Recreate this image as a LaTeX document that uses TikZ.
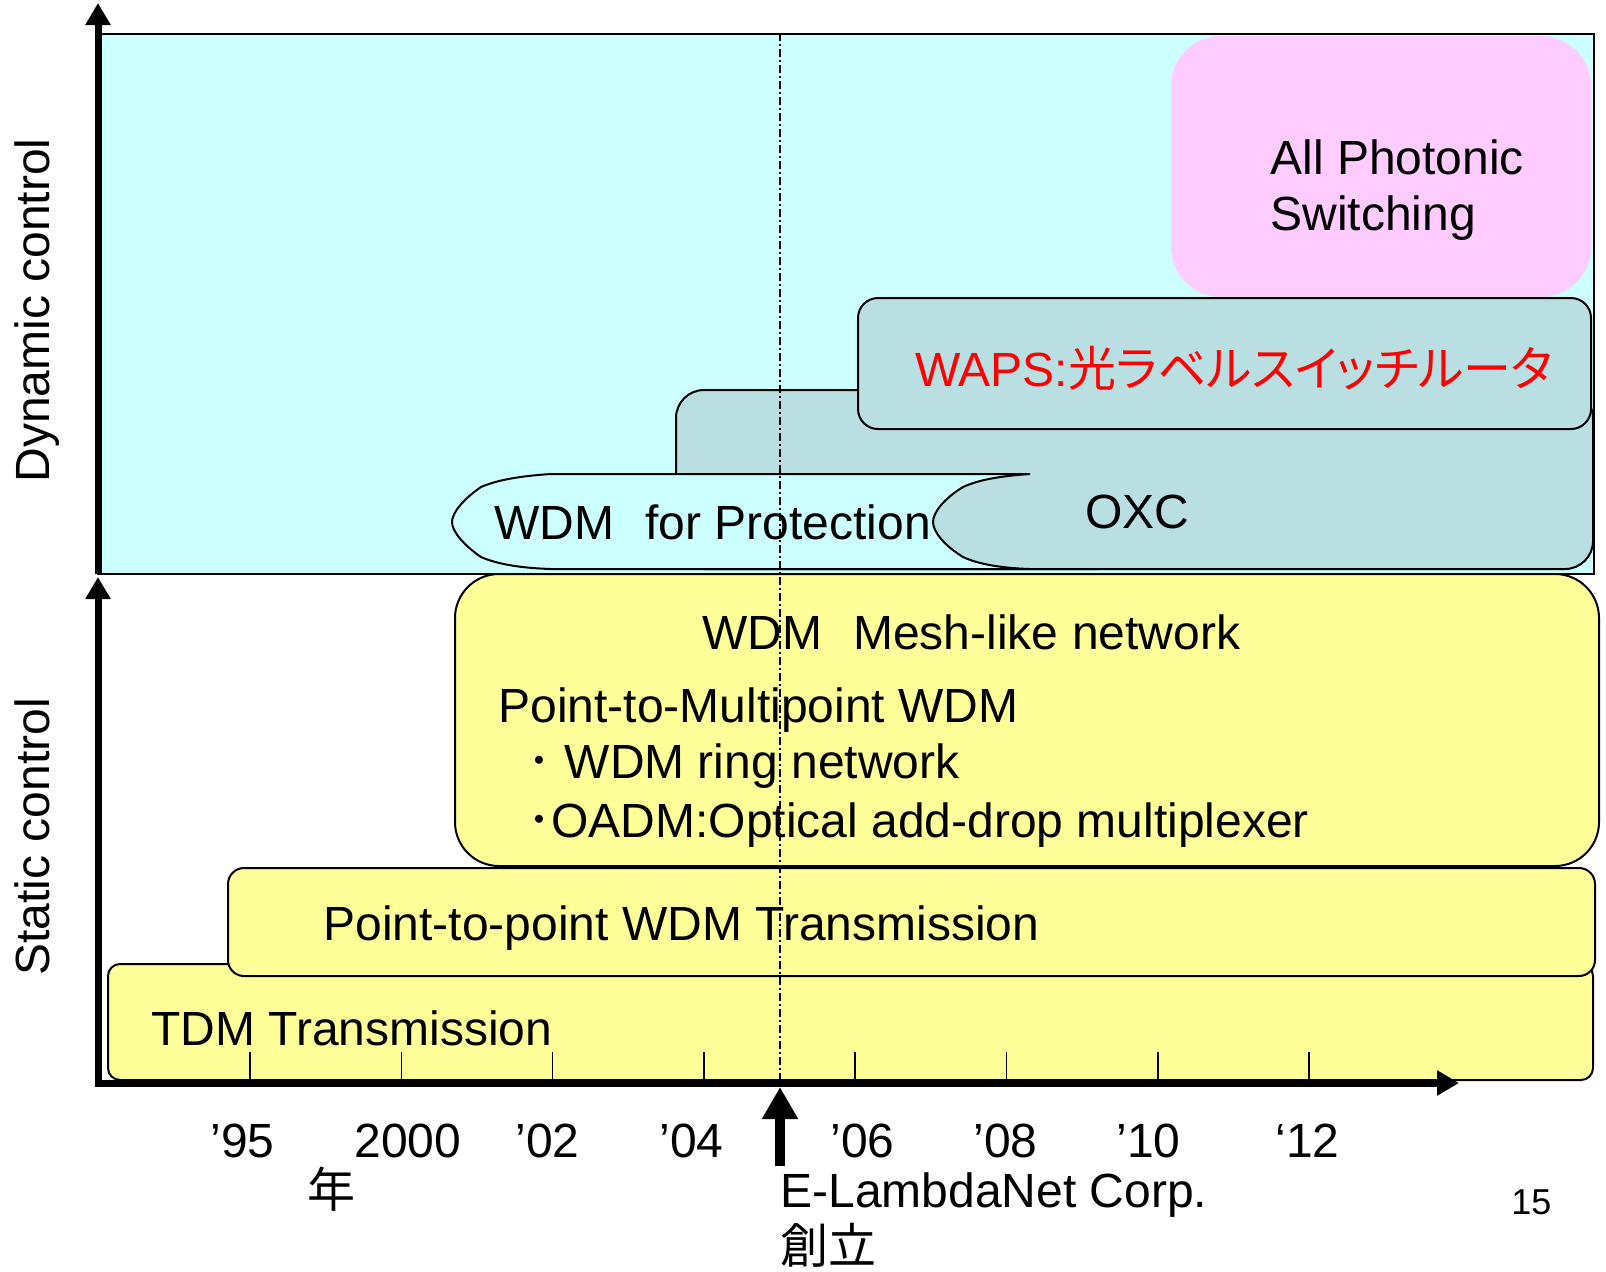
\documentclass[tikz,border=0pt]{standalone}
\usepackage{fontspec}
\setmainfont{Liberation Sans}
\newfontfamily\cjk[RawFeature=+palt]{Noto Sans CJK JP}
\usetikzlibrary{arrows.meta}
\definecolor{bgcyan}{HTML}{CCFFFF}
\definecolor{pinkbox}{HTML}{FFCCFF}
\definecolor{oxcteal}{HTML}{B9DFE2}
\definecolor{yel}{HTML}{FFFF99}
\tikzset{
  lbl/.style={font=\fontsize{24}{28}\selectfont, inner sep=0pt, anchor=base west},
  boxline/.style={draw=black, line width=1pt},
  axis/.style={line width=3.5pt, -{Triangle[length=11pt,width=12pt]}},
  founded/.style={line width=5pt, -{Triangle[length=16pt,width=17pt]}},
  dashdotline/.style={line width=0.75pt, dash pattern=on 4pt off 1.5pt on 1pt off 1.5pt},
  tick/.style={line width=0.75pt}
}
\begin{document}
\begin{tikzpicture}[x=0.5pt,y=-0.5pt]
\useasboundingbox (0,0) rectangle (1606,1271);
% dynamic region background
\draw[fill=bgcyan, line width=0.8pt] (98,34) rectangle (1594,574);
% All photonic
\fill[pinkbox, rounded corners=25pt] (1171,36) rectangle (1591,297);
% OXC
\draw[boxline, fill=oxcteal, rounded corners=14pt] (676,569) -- (676,390) -- (1593,390) -- (1593,569) -- cycle;
% WAPS
\draw[boxline, fill=oxcteal, rounded corners=10pt] (858,298) rectangle (1591,429);
% WDM for protection
\fill[bgcyan] (551,474) -- (1030,474) -- (1030,569) -- (551,569)
  .. controls (520,568) and (497,564) .. (481,557)
  .. controls (465,546) and (452,532) .. (452,522)
  .. controls (452,512) and (465,498) .. (481,487)
  .. controls (497,480) and (520,476) .. (551,474) -- cycle;
\draw[line width=1pt] (1030,474) -- (551,474)
  .. controls (520,476) and (497,480) .. (481,487)
  .. controls (465,498) and (452,512) .. (452,522)
  .. controls (452,532) and (465,546) .. (481,557)
  .. controls (497,564) and (520,568) .. (551,569) -- (1030,569);
% OXC notch
\fill[oxcteal] (1030,474)
  .. controls (1000,476) and (978,480) .. (963,487)
  .. controls (945,498) and (933,512) .. (933,522)
  .. controls (933,532) and (945,546) .. (963,557)
  .. controls (978,564) and (1000,568) .. (1030,569) -- (1100,569) -- (1100,474) -- cycle;
\draw[line width=1pt] (1030,474)
  .. controls (1000,476) and (978,480) .. (963,487)
  .. controls (945,498) and (933,512) .. (933,522)
  .. controls (933,532) and (945,546) .. (963,557)
  .. controls (978,564) and (1000,568) .. (1030,569) -- (1100,569);
% static boxes
\draw[boxline, fill=yel, rounded corners=6pt] (108,964) rectangle (1593,1080);
\draw[boxline, fill=yel, rounded corners=8pt] (228,868) rectangle (1595,976);
\draw[boxline, fill=yel, rounded corners=22pt] (455,574) rectangle (1599,866);
% ticks
\foreach \x in {250,401.3,552.6,703.9,855.2,1006.5,1157.8,1309.1}
  \draw[tick] (\x,1052) -- (\x,1083);
% axes
\coordinate (vtop) at (98,3);
\coordinate (vmid) at (98,574);
\coordinate (vmidtip) at (98,577);
\coordinate (vbot) at (98,1086);
\coordinate (hstart) at (95,1083);
\coordinate (hend) at (1459,1083);
\draw[axis] (vmid) -- (vtop);
\draw[axis] (vbot) -- (vmidtip);
\draw[axis] (hstart) -- (hend);
% founding marker
\coordinate (dtop) at (780,33);
\coordinate (dbot) at (780,1083);
\draw[dashdotline] (dtop) -- (dbot);
\coordinate (fbot) at (780,1166);
\coordinate (ftip) at (780,1087);
\draw[founded] (fbot) -- (ftip);
% texts
\node[lbl] (allph) at (1270,174) {All Photonic};
\node[lbl] (switching) at (1270,230) {Switching};
\node[lbl, text=red] (waps) at (915,386) {WAPS:{\cjk 光ラベルスイッチルータ}};
\node[lbl] (oxc) at (1085,528) {OXC};
\node[lbl] (prot) at (494,539) {WDM\hspace{15.5pt}for Protection};
\node[lbl] (mesh) at (702,649) {WDM\hspace{15.5pt}Mesh-like network};
\node[lbl] (p2mp) at (498,722) {Point-to-Multipoint WDM};
\node[lbl] (ring) at (527,778) {{\cjk ･} WDM ring network};
\node[lbl] (oadm) at (527,837) {{\cjk ･}OADM:Optical add-drop multiplexer};
\node[lbl] (p2p) at (323,940) {Point-to-point WDM Transmission};
\node[lbl] (tdm) at (151,1045) {TDM Transmission};
\node[lbl, rotate=90] (dyn) at (49,483) {Dynamic control};
\node[lbl, rotate=90] (stat) at (49,976) {Static control};
\node[lbl] (y95) at (210,1157) {’95};
\node[lbl] (y00) at (354,1157) {2000};
\node[lbl] (y02) at (515,1157) {’02};
\node[lbl] (y04) at (659,1157) {’04};
\node[lbl] (y06) at (830,1157) {’06};
\node[lbl] (y08) at (973,1157) {’08};
\node[lbl] (y10) at (1116,1157) {’10};
\node[lbl] (y12) at (1275,1157) {‘12};
\node[lbl] (nen) at (307,1207) {\cjk 年};
\node[lbl] (elam) at (780,1207) {E-LambdaNet Corp.};
\node[lbl] (soritsu) at (780,1263) {\cjk 創立};
\node[lbl, font=\fontsize{18}{20}\selectfont] (pg) at (1511,1214) {15};
\end{tikzpicture}
\end{document}
